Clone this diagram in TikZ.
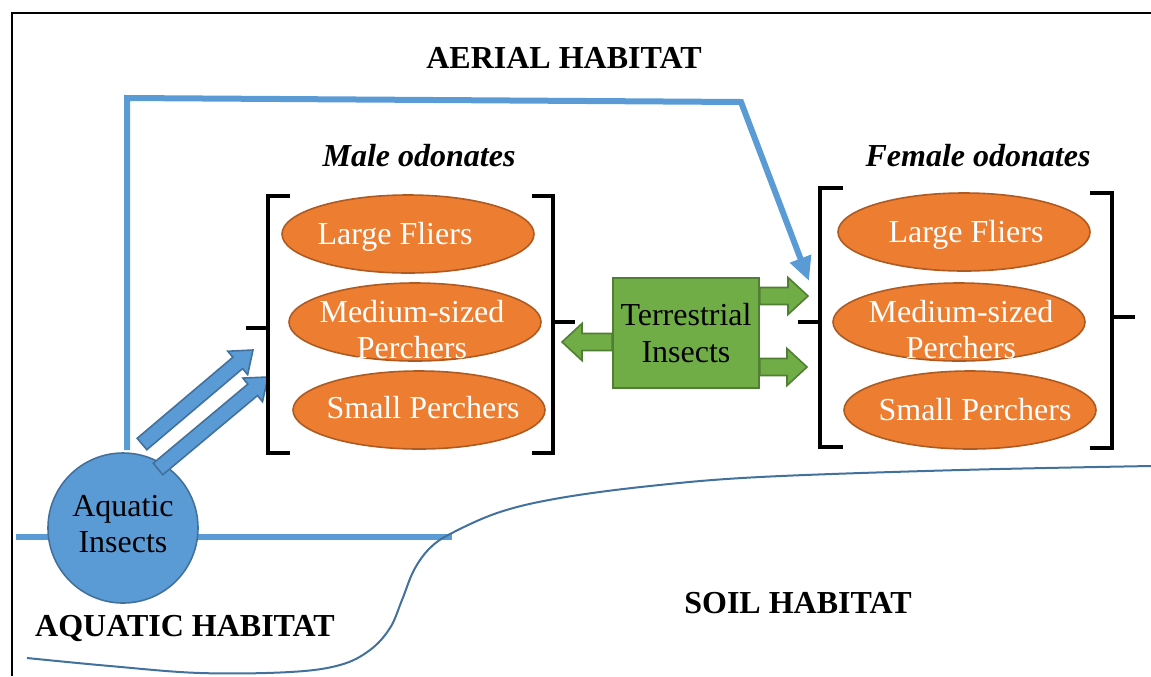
\documentclass[tikz,border=0pt]{standalone}
\usepackage{fontspec}
\setmainfont{Liberation Serif}
\usetikzlibrary{calc,arrows.meta,shapes.geometric}

\definecolor{bluefill}{RGB}{91,155,213}
\definecolor{blueline}{RGB}{65,113,156}
\definecolor{orangefill}{RGB}{237,125,49}
\definecolor{orangeline}{RGB}{174,90,33}
\definecolor{greenfill}{RGB}{112,173,71}
\definecolor{greenline}{RGB}{80,126,50}

\tikzset{every picture/.style={line width=0.75pt}}
\tikzset{
  oval/.style={ellipse, draw=orangeline, fill=orangefill, line width=1.2pt,
    minimum width=189pt, minimum height=58.5pt, inner sep=0pt},
  ovaltext/.style={text=white, font=\fontsize{24}{27}\selectfont, align=center, inner sep=0pt},
  habitat/.style={font=\fontsize{24}{28}\selectfont\bfseries, anchor=base, inner sep=0pt},
  sexlabel/.style={font=\fontsize{24}{28}\selectfont\bfseries\itshape, anchor=base, inner sep=0pt},
  bracket/.style={line width=3pt, line join=miter},
  blockblue/.style={fill=bluefill, draw=blueline, line width=1.2pt, line join=miter},
  blockgreen/.style={fill=greenfill, draw=greenline, line width=1.2pt, line join=miter},
}

% block arrow: tail, tip, shaft half width, head half width, head length, style
\newcommand{\blockarrow}[6]{%
  \coordinate (hb) at ($(#2)!#5!(#1)$);
  \draw[#6] ($(#1)!#3!90:(#2)$) -- ($(hb)!#3!90:(#2)$) -- ($(hb)!#4!90:(#2)$) -- (#2)
    -- ($(hb)!#4!-90:(#2)$) -- ($(hb)!#3!-90:(#2)$) -- ($(#1)!#3!-90:(#2)$) -- cycle;
}

\begin{document}
\begin{tikzpicture}[x=0.75pt,y=0.75pt,yscale=-1,xscale=1]
\useasboundingbox (0,0) rectangle (1151,676);

%Frame
\draw [line width=1.5pt] (12,676) -- (12,13) -- (1151,13);

%Water surface
\draw [color=bluefill, line width=4.5pt] (16,537) -- (452,537);

%Soil boundary
\draw [color=blueline, line width=1.5pt] plot [smooth, tension=0.6] coordinates
  {(27,658) (110,666) (200,673) (290,672) (340,665) (370,650) (390,628) (402,600)
   (414,570) (430,548) (452,533) (500,512) (560,498) (650,486) (760,477) (960,470) (1151,466)};

%Aquatic insects
\node [circle, draw=blueline, fill=bluefill, line width=1.2pt, minimum size=112.5pt, inner sep=0pt] (aq) at (123,528) {};
\node [font=\fontsize{24}{27.5}\selectfont, align=center, inner sep=0pt] (aqT) at ($(aq)+(0,-4)$) {Aquatic\\Insects};

%Flight path to the females
\coordinate (aqtop) at (127,450);
\coordinate (fArrow) at (809,281);
\draw [color=bluefill, line width=4.5pt, line join=miter, -{Triangle[length=18pt,width=16pt]}]
  (aqtop) -- (127,98) -- (741,102) -- (fArrow);

%Block arrows to the males
\coordinate (aqA) at (142,444);
\coordinate (mA) at (253,350);
\coordinate (aqB) at (158,469);
\coordinate (mB) at (268,377);
\blockarrow{aqA}{mA}{5.6pt}{11.5pt}{15pt}{blockblue}
\blockarrow{aqB}{mB}{5.6pt}{11.5pt}{15pt}{blockblue}

%Male brackets
\draw [bracket] (290,196) -- (268,196) -- (268,453) -- (290,453);
\draw [bracket] (246,328) -- (268,328);
\draw [bracket] (532,196) -- (553,196) -- (553,453) -- (532,453);
\draw [bracket] (553,322) -- (575,322);

%Female brackets
\draw [bracket] (843,188) -- (820,188) -- (820,447) -- (843,447);
\draw [bracket] (798,322) -- (820,322);
\draw [bracket] (1090,193) -- (1112,193) -- (1112,448) -- (1090,448);
\draw [bracket] (1112,317) -- (1135,317);

%Male ellipses
\node [oval] (mLarge) at (408,234) {};
\node [oval] (mMedium) at (415,322) {};
\node [oval] (mSmall) at (419,410) {};
\node [ovaltext, anchor=base] (mLargeT) at ($(mLarge)+(-13,10)$) {Large Fliers};
\node [ovaltext] (mMediumT) at ($(mMedium)+(-3,8)$) {Medium-sized\\Perchers};
\node [ovaltext, anchor=base] (mSmallT) at ($(mSmall)+(4,8)$) {Small Perchers};

%Female ellipses
\node [oval] (fLarge) at (964,232) {};
\node [oval] (fMedium) at (959,322) {};
\node [oval] (fSmall) at (970,410) {};
\node [ovaltext, anchor=base] (fLargeT) at ($(fLarge)+(2,10)$) {Large Fliers};
\node [ovaltext] (fMediumT) at ($(fMedium)+(2,8)$) {Medium-sized\\Perchers};
\node [ovaltext, anchor=base] (fSmallT) at ($(fSmall)+(5,10)$) {Small Perchers};

%Terrestrial insects
\node [rectangle, draw=greenline, fill=greenfill, line width=1.2pt, minimum width=109.5pt,
  minimum height=82.5pt, inner sep=0pt, font=\fontsize{24}{27.5}\selectfont, align=center]
  (terr) at (686,333) {Terrestrial\\Insects};
\coordinate (tL) at ($(terr.west)+(0,9)$);
\coordinate (mR) at (562,342);
\coordinate (tR1) at ($(terr.east)+(0,-37)$);
\coordinate (fL1) at (808,296);
\coordinate (tR2) at ($(terr.east)+(0,34)$);
\coordinate (fL2) at (807,367);
\blockarrow{tL}{mR}{6.4pt}{13.9pt}{15pt}{blockgreen}
\blockarrow{tR1}{fL1}{6.4pt}{13.9pt}{15pt}{blockgreen}
\blockarrow{tR2}{fL2}{6.4pt}{13.9pt}{15pt}{blockgreen}

% Text Node
\node [habitat] (aerial) at (564,68) {AERIAL HABITAT};
\node [habitat] (aquatic) at (185,636) {AQUATIC HABITAT};
\node [habitat] (soil) at (798,613) {SOIL HABITAT};
\node [sexlabel] (male) at (419,166) {Male odonates};
\node [sexlabel] (female) at (978,166) {Female odonates};

\end{tikzpicture}
\end{document}
